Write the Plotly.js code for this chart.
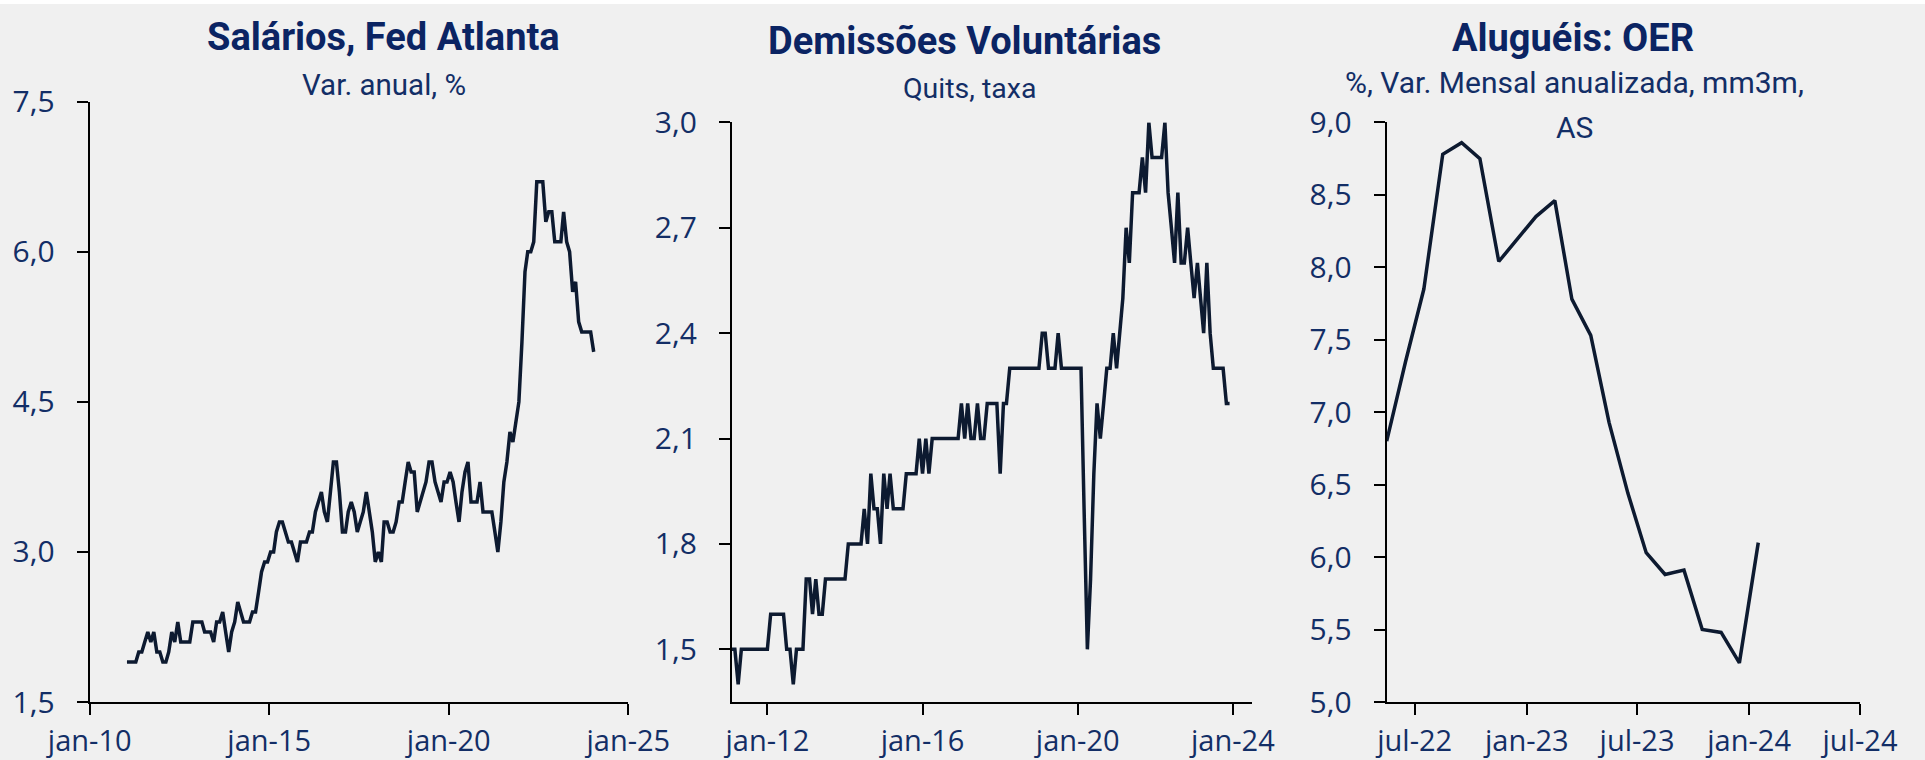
<!DOCTYPE html>
<html>
<head>
<meta charset="utf-8">
<script src="https://cdn.plot.ly/plotly-3.0.1.min.js"></script>
<style>
  html, body { margin: 0; padding: 0; background: #ffffff; }
  #chart { width: 1925px; height: 760px; }
</style>
</head>
<body>
<div id="chart"></div>
<script>
// ---------- DATA ----------
// Panel 1: Salários, Fed Atlanta (var. anual, %), monthly Jan-2011 .. Jan-2024
const wagesStart = [2011, 1];
const wagesValues = [
  1.9,1.9,1.9,1.9,2.0,2.0,2.1,2.2,2.1,2.2,2.0,2.0,
  1.9,1.9,2.0,2.2,2.1,2.3,2.1,2.1,2.1,2.1,2.3,2.3,
  2.3,2.3,2.2,2.2,2.2,2.1,2.3,2.3,2.4,2.2,2.0,2.2,
  2.3,2.5,2.4,2.3,2.3,2.3,2.4,2.4,2.6,2.8,2.9,2.9,
  3.0,3.0,3.2,3.3,3.3,3.2,3.1,3.1,3.0,2.9,3.1,3.1,
  3.1,3.2,3.2,3.4,3.5,3.6,3.4,3.3,3.6,3.9,3.9,3.6,
  3.2,3.2,3.4,3.5,3.4,3.2,3.3,3.4,3.6,3.4,3.2,2.9,
  3.0,2.9,3.3,3.3,3.2,3.2,3.3,3.5,3.5,3.7,3.9,3.8,
  3.8,3.4,3.5,3.6,3.7,3.9,3.9,3.7,3.6,3.5,3.7,3.7,
  3.8,3.7,3.5,3.3,3.6,3.8,3.9,3.5,3.5,3.5,3.7,3.4,
  3.4,3.4,3.4,3.2,3.0,3.3,3.7,3.9,4.2,4.1,4.3,4.5,
  5.1,5.8,6.0,6.0,6.1,6.7,6.7,6.7,6.3,6.4,6.4,6.1,
  6.1,6.1,6.4,6.1,6.0,5.6,5.7,5.3,5.2,5.2,5.2,5.2,
  5.0
];
const wagesTickVals = ['2010-01-01','2015-01-01','2020-01-01','2025-01-01'];
const wagesTickText = ['jan-10','jan-15','jan-20','jan-25'];
const wagesYTicks = [1.5, 3.0, 4.5, 6.0, 7.5];

// Panel 2: Demissões Voluntárias (quits, taxa), monthly Feb-2011 .. Dec-2023
const quitsStart = [2011, 2];
const quitsValues = [
  1.5,1.5,1.4,1.5,1.5,1.5,1.5,1.5,1.5,1.5,1.5,
  1.5,1.6,1.6,1.6,1.6,1.6,1.5,1.5,1.4,1.5,1.5,1.5,
  1.7,1.7,1.6,1.7,1.6,1.6,1.7,1.7,1.7,1.7,1.7,1.7,
  1.7,1.8,1.8,1.8,1.8,1.8,1.9,1.8,2.0,1.9,1.9,1.8,
  2.0,1.9,2.0,1.9,1.9,1.9,1.9,2.0,2.0,2.0,2.0,2.1,
  2.0,2.1,2.0,2.1,2.1,2.1,2.1,2.1,2.1,2.1,2.1,2.1,
  2.2,2.1,2.2,2.1,2.1,2.2,2.1,2.1,2.2,2.2,2.2,2.2,
  2.0,2.2,2.2,2.3,2.3,2.3,2.3,2.3,2.3,2.3,2.3,2.3,
  2.3,2.4,2.4,2.3,2.3,2.3,2.4,2.3,2.3,2.3,2.3,2.3,
  2.3,2.3,1.9,1.5,1.7,2.0,2.2,2.1,2.2,2.3,2.3,2.4,
  2.3,2.4,2.5,2.7,2.6,2.8,2.8,2.8,2.9,2.8,3.0,2.9,
  2.9,2.9,2.9,3.0,2.8,2.7,2.6,2.8,2.6,2.6,2.7,2.6,
  2.5,2.6,2.5,2.4,2.6,2.4,2.3,2.3,2.3,2.3,2.2,2.2
];
const quitsTickVals = ['2012-01-01','2016-01-01','2020-01-01','2024-01-01'];
const quitsTickText = ['jan-12','jan-16','jan-20','jan-24'];
const quitsYTicks = [1.5, 1.8, 2.1, 2.4, 2.7, 3.0];

// Panel 3: Aluguéis: OER (% var. mensal anualizada, mm3m, AS), monthly May-2022 .. Jan-2024
const oerStart = [2022, 5];
const oerValues = [
  6.80, 7.35, 7.85, 8.78, 8.86, 8.75, 8.04, 8.19, 8.35, 8.46, 7.78,
  7.53, 6.93, 6.44, 6.03, 5.88, 5.91, 5.50, 5.48, 5.27, 6.10
];
const oerTickVals = ['2022-07-01','2023-01-01','2023-07-01','2024-01-01','2024-07-01'];
const oerTickText = ['jul-22','jan-23','jul-23','jan-24','jul-24'];
const oerYTicks = [5.0, 5.5, 6.0, 6.5, 7.0, 7.5, 8.0, 8.5, 9.0];

// ---------- HELPERS ----------
function monthDates(start, n, day) {
  const out = [];
  let y = start[0], m = start[1];
  for (let i = 0; i < n; i++) {
    out.push(y + '-' + String(m).padStart(2, '0') + '-' + String(day).padStart(2, '0'));
    m++; if (m > 12) { m = 1; y++; }
  }
  return out;
}

const W = 1925, H = 760;
const px = v => v / W;
const py = v => 1 - v / H;

const LINE = '#0d1a30';
const TITLE = '#0b2463';
const TICKC = '#132e66';
const FONT = 'Roboto, "Open Sans", sans-serif';
const TFONT = '"Open Sans", Roboto, sans-serif';

const wagesDates = monthDates(wagesStart, wagesValues.length, 15);
const quitsDates = monthDates(quitsStart, quitsValues.length, 1);
const oerDates = monthDates(oerStart, oerValues.length, 16);

const traces = [
  { x: wagesDates, y: wagesValues, xaxis: 'x', yaxis: 'y', type: 'scatter', mode: 'lines',
    line: { color: LINE, width: 3.5 }, hoverinfo: 'skip' },
  { x: quitsDates, y: quitsValues, xaxis: 'x2', yaxis: 'y2', type: 'scatter', mode: 'lines',
    line: { color: LINE, width: 3.5 }, hoverinfo: 'skip' },
  { x: oerDates, y: oerValues, xaxis: 'x3', yaxis: 'y3', type: 'scatter', mode: 'lines',
    line: { color: LINE, width: 3.5 }, hoverinfo: 'skip' }
];

function xAx(domain, range, tv, tt, anchor) {
  return {
    domain: domain, range: range, type: 'date', anchor: anchor,
    tickmode: 'array', tickvals: tv, ticktext: tt,
    showline: true, linecolor: '#000000', linewidth: 2,
    ticks: 'outside', ticklen: 11, tickwidth: 2, tickcolor: '#000000',
    showgrid: false, zeroline: false, ticklabelstandoff: 1,
    tickfont: { family: TFONT, size: 29, color: TICKC }
  };
}
function yAx(domain, range, tv, anchor) {
  return {
    domain: domain, range: range, anchor: anchor,
    tickmode: 'array', tickvals: tv, tickformat: '.1f',
    showline: true, linecolor: '#000000', linewidth: 2,
    ticks: 'outside', ticklen: 11, tickwidth: 2, tickcolor: '#000000',
    showgrid: false, zeroline: false, ticklabelstandoff: 16,
    tickfont: { family: TFONT, size: 30, color: TICKC }
  };
}

const yBottom = py(702);

const layout = {
  width: W, height: H,
  margin: { l: 0, r: 0, t: 0, b: 0 },
  paper_bgcolor: '#f0f0f0', plot_bgcolor: '#f0f0f0',
  separators: ', ',
  showlegend: false,
  font: { family: FONT, color: TICKC },
  xaxis: xAx([px(89.7), px(628.3)], ['2010-01-01', '2025-01-01'], wagesTickVals, wagesTickText, 'y'),
  yaxis: yAx([yBottom, py(101.8)], [1.5, 7.5], wagesYTicks, 'x'),
  xaxis2: xAx([px(731.9), px(1252.2)], ['2011-02-01', '2024-07-01'], quitsTickVals, quitsTickText, 'y2'),
  yaxis2: yAx([yBottom, py(122.4)], [1.35, 3.0], quitsYTicks, 'x2'),
  xaxis3: xAx([px(1386.7), px(1860)], ['2022-05-16', '2024-07-01'], oerTickVals, oerTickText, 'y3'),
  yaxis3: yAx([yBottom, py(122.4)], [5.0, 9.0], oerYTicks, 'x3'),
  shapes: [
    { type: 'rect', xref: 'paper', yref: 'paper', x0: 0, x1: 1, y0: py(4), y1: 1,
      fillcolor: '#ffffff', line: { width: 0 }, layer: 'below' }
  ],
  annotations: [
    { text: '<b>Salários, Fed Atlanta</b>', x: px(383), y: py(37), xref: 'paper', yref: 'paper',
      xanchor: 'center', yanchor: 'middle', showarrow: false,
      font: { family: FONT, size: 38, color: TITLE } },
    { text: 'Var. anual, %', x: px(384), y: py(85), xref: 'paper', yref: 'paper',
      xanchor: 'center', yanchor: 'middle', showarrow: false,
      font: { family: FONT, size: 29.5, color: TICKC } },
    { text: '<b>Demissões Voluntárias</b>', x: px(965), y: py(41), xref: 'paper', yref: 'paper',
      xanchor: 'center', yanchor: 'middle', showarrow: false,
      font: { family: FONT, size: 38, color: TITLE } },
    { text: 'Quits, taxa', x: px(970), y: py(89), xref: 'paper', yref: 'paper',
      xanchor: 'center', yanchor: 'middle', showarrow: false,
      font: { family: FONT, size: 28.5, color: TICKC } },
    { text: '<b>Aluguéis: OER</b>', x: px(1573), y: py(38), xref: 'paper', yref: 'paper',
      xanchor: 'center', yanchor: 'middle', showarrow: false,
      font: { family: FONT, size: 38, color: TITLE } },
    { text: '%, Var. Mensal anualizada, mm3m,', x: px(1574), y: py(83), xref: 'paper', yref: 'paper',
      xanchor: 'center', yanchor: 'middle', showarrow: false,
      font: { family: FONT, size: 30, color: TICKC } },
    { text: 'AS', x: px(1574), y: py(128), xref: 'paper', yref: 'paper',
      xanchor: 'center', yanchor: 'middle', showarrow: false,
      font: { family: FONT, size: 30, color: TICKC } }
  ]
};

Plotly.newPlot('chart', traces, layout, { displayModeBar: false, staticPlot: true });
</script>
</body>
</html>
